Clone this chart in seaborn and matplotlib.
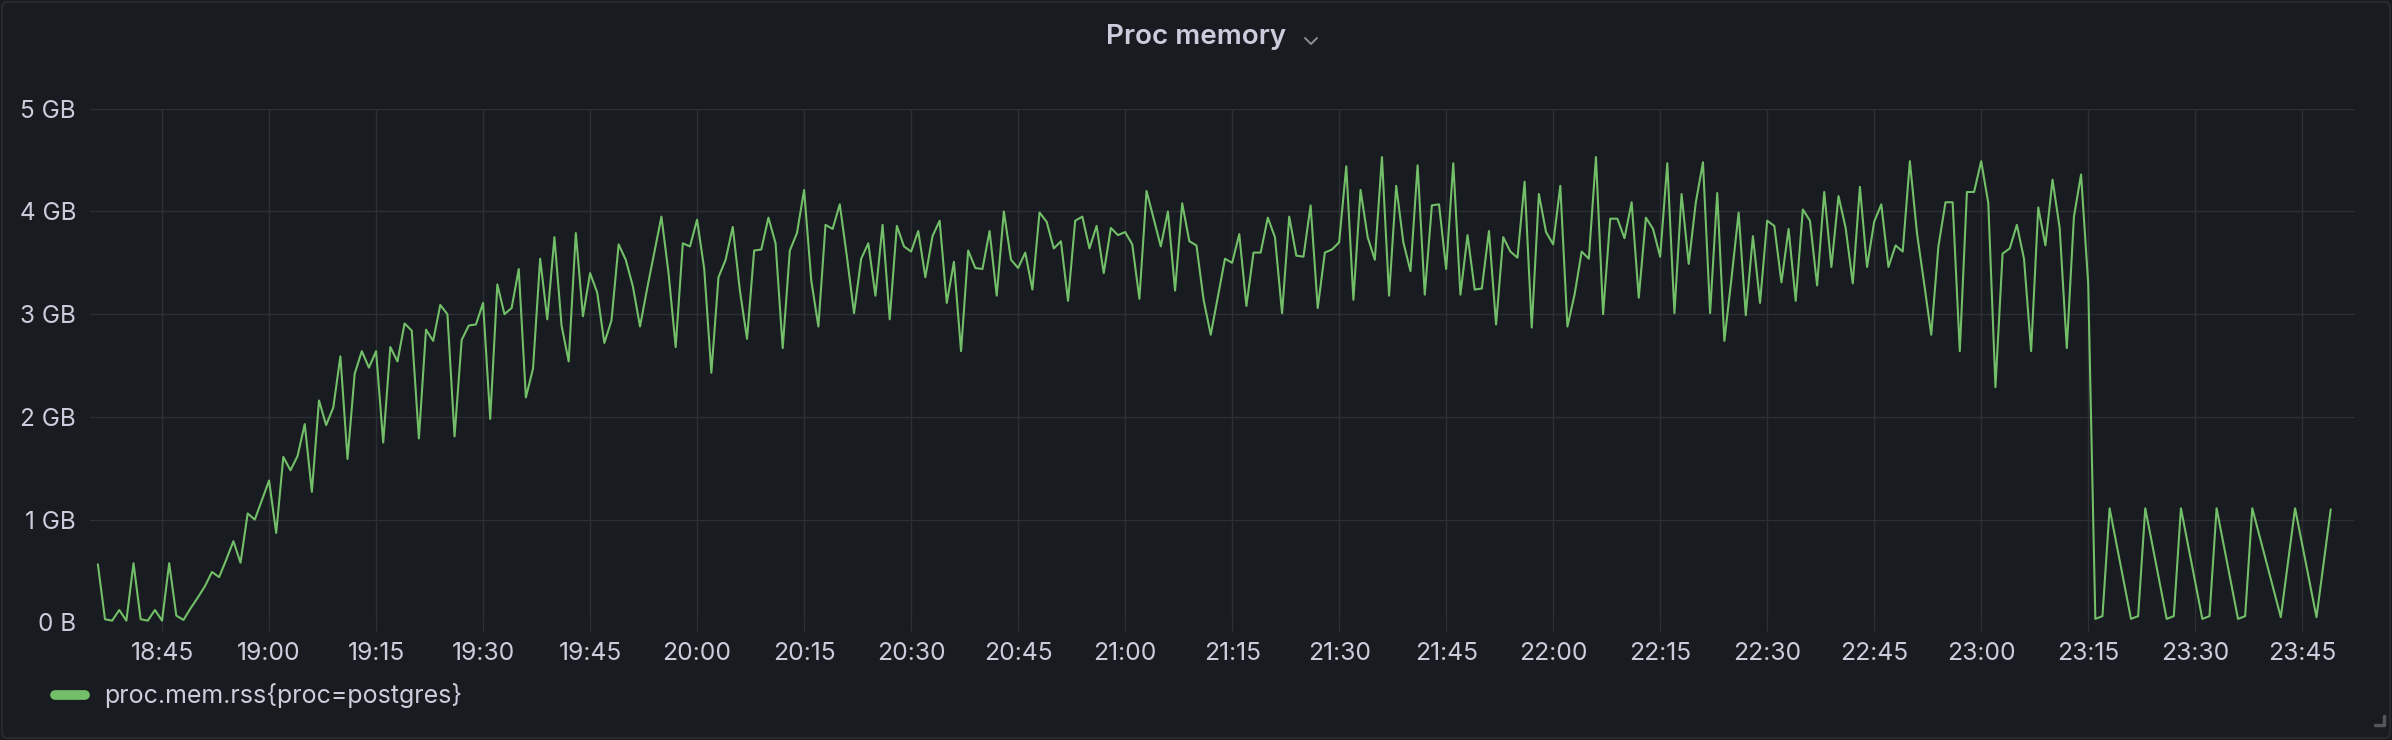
import datetime
import pandas as pd
import matplotlib
matplotlib.use("Agg")
import matplotlib.pyplot as plt
import matplotlib.dates as mdates
from matplotlib.ticker import FuncFormatter
from matplotlib.patches import FancyBboxPatch
from matplotlib.lines import Line2D
import seaborn as sns

title = "Proc memory"
series_label = "proc.mem.rss{proc=postgres}"
start = datetime.datetime(2023, 5, 10, 18, 36)

# one sample per minute, 18:36 .. 23:15 (GB)
rss_gb = [
    0.565, 0.03, 0.016, 0.12, 0.016, 0.575, 0.03, 0.016, 0.12, 0.016,
    0.575, 0.065, 0.023, 0.136, 0.24, 0.35, 0.49, 0.44, 0.61, 0.79,
    0.58, 1.06, 1.0, 1.19, 1.38, 0.87, 1.61, 1.48, 1.62, 1.93,
    1.27, 2.16, 1.92, 2.09, 2.59, 1.59, 2.42, 2.64, 2.48, 2.64,
    1.75, 2.68, 2.54, 2.91, 2.84, 1.79, 2.85, 2.74, 3.09, 3.0,
    1.81, 2.75, 2.89, 2.90, 3.11, 1.98, 3.29, 3.0, 3.06, 3.44,
    2.19, 2.47, 3.54, 2.95, 3.75, 2.89, 2.54, 3.79, 2.98, 3.40,
    3.21, 2.72, 2.94, 3.68, 3.53, 3.27, 2.88, 3.25, 3.6, 3.95,
    3.4, 2.68, 3.69, 3.66, 3.92, 3.44, 2.43, 3.36, 3.53, 3.85,
    3.23, 2.76, 3.62, 3.63, 3.94, 3.69, 2.67, 3.62, 3.79, 4.21,
    3.33, 2.88, 3.87, 3.83, 4.07, 3.56, 3.01, 3.54, 3.69, 3.18,
    3.87, 2.95, 3.86, 3.66, 3.61, 3.81, 3.36, 3.76, 3.91, 3.11,
    3.51, 2.64, 3.62, 3.45, 3.44, 3.81, 3.18, 4.0, 3.53, 3.45,
    3.60, 3.24, 3.99, 3.90, 3.64, 3.71, 3.13, 3.91, 3.95, 3.64,
    3.86, 3.40, 3.84, 3.77, 3.80, 3.68, 3.15, 4.20, 3.93, 3.66,
    4.0, 3.23, 4.08, 3.71, 3.67, 3.14, 2.80, 3.17, 3.54, 3.50,
    3.78, 3.08, 3.60, 3.60, 3.94, 3.75, 3.01, 3.95, 3.57, 3.56,
    4.06, 3.06, 3.60, 3.63, 3.70, 4.44, 3.14, 4.21, 3.75, 3.53,
    4.53, 3.18, 4.25, 3.70, 3.42, 4.45, 3.19, 4.06, 4.07, 3.44,
    4.47, 3.19, 3.77, 3.24, 3.25, 3.81, 2.90, 3.75, 3.61, 3.55,
    4.29, 2.87, 4.17, 3.80, 3.68, 4.25, 2.88, 3.19, 3.61, 3.54,
    4.53, 3.0, 3.93, 3.93, 3.74, 4.09, 3.16, 3.94, 3.83, 3.56,
    4.47, 3.01, 4.17, 3.49, 4.09, 4.48, 3.01, 4.18, 2.74, 3.35,
    3.99, 2.99, 3.76, 3.11, 3.91, 3.86, 3.31, 3.83, 3.13, 4.02,
    3.91, 3.28, 4.19, 3.46, 4.15, 3.84, 3.30, 4.24, 3.46, 3.90,
    4.07, 3.46, 3.67, 3.61, 4.49, 3.79, 3.30, 2.80, 3.66, 4.09,
    4.09, 2.64, 4.19, 4.19, 4.49, 4.08, 2.29, 3.59, 3.64, 3.87,
    3.54, 2.64, 4.04, 3.67, 4.31, 3.84, 2.67, 3.95, 4.36, 3.30,
]

# after the restart the samples are sparser (minutes after 18:36)
tail_minutes = [280, 281, 282, 285, 286, 287, 290, 291, 292, 295,
                296, 297, 300, 301, 302, 306, 308, 311, 313]
tail_gb = [0.033, 0.06, 1.11, 0.033, 0.06, 1.11, 0.033, 0.06, 1.11, 0.033,
           0.06, 1.11, 0.033, 0.06, 1.11, 0.05, 1.11, 0.05, 1.10]

minutes = list(range(len(rss_gb))) + tail_minutes
df = pd.DataFrame({
    "time": [start + datetime.timedelta(minutes=m) for m in minutes],
    "rss": rss_gb + tail_gb,
})

BG = "#181b1f"
GRID = "#2c2f34"
TXT = "#ccccdc"
GREEN = "#73bf69"

sns.set_style("dark")
plt.rcParams["font.family"] = ["Inter", "DejaVu Sans"]

W, H = 2392, 740
fig = plt.figure(figsize=(W / 100, H / 100), dpi=100, facecolor=BG)
ax = fig.add_axes([90 / W, 1 - 622.3 / H, (2355 - 90) / W, (622.3 - 108.8) / H])
ax.set_facecolor(BG)

sns.lineplot(data=df, x="time", y="rss", ax=ax, color=GREEN, linewidth=1.5,
             label=series_label)

ax.set_ylim(0, 5)
ax.set_yticks(range(6))
ax.yaxis.set_major_formatter(FuncFormatter(lambda v, p: "0 B" if v == 0 else f"{v:g} GB"))
ax.set_xlim(start - datetime.timedelta(minutes=1.1), start + datetime.timedelta(minutes=316.4))
ax.xaxis.set_major_locator(mdates.MinuteLocator(byminute=[0, 15, 30, 45]))
ax.xaxis.set_major_formatter(mdates.DateFormatter("%H:%M"))
ax.set_xlabel("")
ax.set_ylabel("")

ax.grid(True, color=GRID, linewidth=1)
for s in ax.spines.values():
    s.set_visible(False)
ax.tick_params(axis="x", colors=TXT, labelsize=17.8, length=7, width=0.8,
               color=GRID, pad=7, direction="out", bottom=True)
ax.tick_params(axis="y", colors=TXT, labelsize=17.5, length=0, pad=10)

leg = ax.legend(loc="center left", bbox_to_anchor=(55 / W, 1 - 696 / H),
                bbox_transform=fig.transFigure, frameon=False, fontsize=18,
                handlelength=1.2, handletextpad=0.75, borderpad=0, borderaxespad=0)
for t in leg.get_texts():
    t.set_color(TXT)
for h in leg.legend_handles:
    h.set_linewidth(7)
    h.set_solid_capstyle("round")

fig.text(1196 / W, 1 - 37 / H, title, ha="center", va="center",
         fontsize=20, fontweight="semibold", color=TXT)
# chevron next to title
fig.add_artist(Line2D([1305, 1311, 1317], [H - 38, H - 44, H - 38], transform=None,
                      color="#8e8e95", linewidth=1.4))

# panel border and resize handle
fig.add_artist(FancyBboxPatch((2, 2), W - 4, H - 4, boxstyle="round,pad=0,rounding_size=6",
                              transform=None, facecolor="none", edgecolor="#2a2d32",
                              linewidth=1.2))
fig.add_artist(Line2D([2375, 2384, 2384], [H - 725, H - 725, H - 716], transform=None,
                      color="#55565b", linewidth=2.5))

fig.savefig("out.png", dpi=100, facecolor=BG)
